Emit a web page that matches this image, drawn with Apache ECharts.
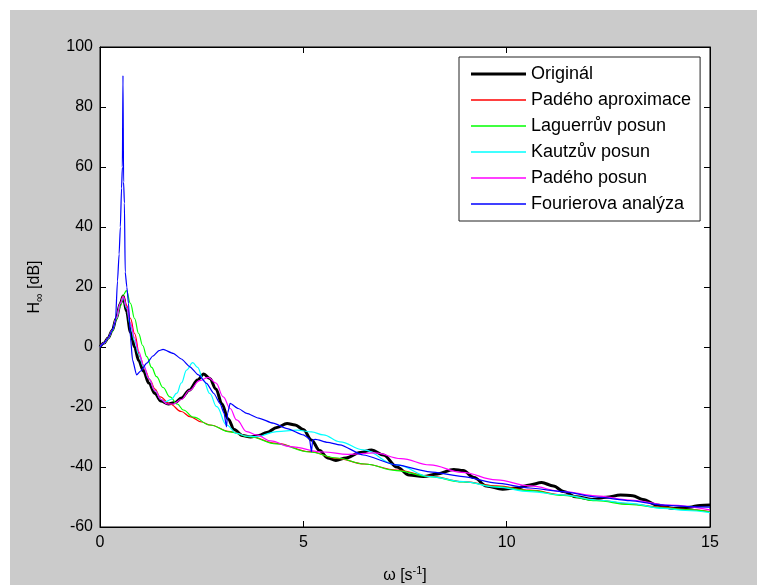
<!DOCTYPE html>
<html>
<head>
<meta charset="utf-8">
<script src="https://cdn.jsdelivr.net/npm/echarts@6/dist/echarts.min.js"></script>
<style>
html,body{margin:0;padding:0;background:#fff;}
#c{width:757px;height:585px;}
</style>
</head>
<body>
<div id="c"></div>
<script>
// ---- data ----
const seriesNames = ['Originál','Padého aproximace','Laguerrův posun','Kautzův posun','Padého posun','Fourierova analýza'];

const origX = [0,0.1,0.2,0.3,0.4,0.5,0.57,0.65,0.75,0.85,0.95,1.07,1.2,1.35,1.5,1.68,1.85,2.0,2.2,2.4,2.55,2.7,2.85,3.0,3.15,3.3,3.5,3.7,3.9,4.1,4.35,4.6,4.8,5.0,5.2,5.4,5.6,5.8,6.05,6.4,6.68,6.97,7.3,7.6,7.95,8.3,8.7,8.93,9.2,9.5,9.9,10.25,10.57,10.86,11.15,11.4,11.7,12.1,12.45,12.8,13.1,13.35,13.7,14.1,14.5,14.75,15];
const origY = [0,1.3,3,5.5,9.5,14.5,17,12,5,0,-4.5,-8,-12,-15.5,-18,-19,-18.5,-17,-14.3,-11,-9,-10.5,-14,-19,-24,-27.5,-29.5,-30,-29.5,-28.5,-26.8,-25.5,-26,-27.5,-31,-34.5,-37,-37.8,-37,-35.2,-34.3,-36,-40,-42.7,-43.2,-42.3,-40.8,-41.2,-43.5,-46.3,-47.4,-47,-46,-45.2,-46.3,-48.2,-49.9,-50.8,-50.1,-49.3,-49.6,-50.8,-52.7,-53.8,-53.4,-52.8,-52.7];

const padeX = [0,0.1,0.2,0.3,0.4,0.5,0.57,0.65,0.75,0.85,0.98,1.1,1.23,1.35,1.48,1.72,2.0,2.21,2.5,2.7,3.2,3.69,4.34,5.16,5.82,6.5,7.29,8.1,8.93,9.75,10.57,11.4,12.21,13.0,13.85,14.4,15];
const padeY = [0,1.3,3,5.5,9.5,14.5,17,14,9.5,4.5,-3.2,-7.5,-11,-14,-16.6,-19,-21.5,-23.2,-25,-26,-28.2,-29.9,-32.1,-34.9,-37.1,-39,-41,-43,-44.9,-46.3,-47.7,-49.3,-51,-52.3,-53.4,-54.1,-54.9];

const lagX = [0,0.1,0.2,0.3,0.4,0.5,0.58,0.65,0.75,0.85,0.95,1.05,1.15,1.27,1.39,1.55,1.72,1.9,2.05,2.3,2.7,3.2,3.69,4.34,5.16,5.82,6.5,7.29,8.1,8.93,9.75,10.57,11.4,12.21,13.0,13.85,14.4,15];
const lagY = [0,1.2,2.8,5.2,9,13.5,17.5,18.8,14.5,9.5,4.5,0.5,-3.2,-6.8,-9.9,-13.5,-16.6,-19,-21,-23.4,-26,-28.3,-30,-32.3,-35,-37,-39,-41.2,-43.2,-45,-46.5,-47.9,-49.5,-51.2,-52.5,-53.6,-54.2,-55];

const kautzX = [0,0.1,0.2,0.3,0.4,0.5,0.57,0.65,0.75,0.85,0.95,1.07,1.2,1.35,1.5,1.6,1.75,1.89,2.0,2.13,2.28,2.4,2.54,2.7,2.87,3.11,3.36,3.6,3.85,4.34,4.84,5.2,5.49,5.9,6.47,7.29,8.11,8.93,9.75,10.57,11.39,12.21,13.03,13.85,14.4,15];
const kautzY = [0,1.3,3,5.5,9.5,14.5,16.5,13,7,2,-2.5,-6.5,-10.5,-14.5,-17.5,-18.3,-17.5,-15.4,-12,-7.7,-5.2,-6.8,-11,-15.5,-19.9,-26,-28.8,-29.7,-29.9,-28.2,-27.7,-28.3,-29.3,-31.6,-34.3,-39.3,-43.2,-44.9,-46.7,-48.2,-49.3,-51,-52.1,-53.8,-54.5,-55.2];

const padePosunX = [0,0.1,0.2,0.3,0.4,0.5,0.57,0.65,0.75,0.85,0.95,1.07,1.2,1.35,1.5,1.65,1.8,2.0,2.2,2.45,2.66,2.85,3.03,3.2,3.36,3.61,3.85,4.2,4.67,5.49,6.1,6.76,7.4,8.11,8.9,9.75,10.57,11.39,12.2,13.03,14.0,15];
const padePosunY = [0,1.3,3,5.5,9.5,14.5,16.8,13.5,8,3,-1.5,-6,-10.5,-14.5,-17.5,-19,-19,-17.5,-14.5,-11.2,-10.1,-12,-16.6,-20.5,-24.3,-28.2,-29.3,-31.3,-33.2,-35,-35.8,-35.3,-37.2,-39.3,-41.8,-44.3,-46.3,-48.2,-49.6,-51,-52.7,-54.3];

const fourX = [0,0.1,0.2,0.3,0.38,0.43,0.47,0.5,0.53,0.55,0.565,0.58,0.6,0.62,0.66,0.7,0.75,0.8,0.9,1.0,1.15,1.3,1.45,1.55,1.8,2.0,2.21,2.42,2.62,2.8,2.95,3.05,3.11,3.14,3.2,3.4,3.61,3.9,4.26,4.6,5.0,5.15,5.2,5.23,5.3,5.6,5.9,6.47,7.29,8.11,8.93,9.75,10.57,11.39,12.21,13.03,13.85,14.5,15];
const fourY = [0,1.3,3,5.5,8.5,22,31,40,53,60,90.5,55,48,25,20,14.6,3,-4.3,-9.3,-8,-5.4,-3,-1.2,-0.8,-2.1,-4,-6.6,-9.3,-12.1,-15.5,-18.8,-22,-26.6,-22,-18.8,-20.5,-22.1,-23.7,-25.4,-27.2,-29.3,-30.5,-34.9,-31,-30.8,-31.8,-32.6,-36,-39.3,-41.6,-43.2,-45.4,-47,-48.2,-50,-51.2,-52.7,-53.2,-53.4];

const xTicks = {min:0, max:15, interval:5};
const yTicks = {min:-60, max:100, interval:20};

// ---- chart ----
const FONT = '"Liberation Sans", Arial, Helvetica, sans-serif';
function pairs(xs, ys){ return xs.map((x,i)=>[x, ys[i]]); }

const seriesDefs = [
  {name:seriesNames[0], x:origX, y:origY, color:'#000000', width:3, smooth:0.35},
  {name:seriesNames[1], x:padeX, y:padeY, color:'#ff0000', width:1.2, smooth:0.4},
  {name:seriesNames[2], x:lagX, y:lagY, color:'#00ff00', width:1.2, smooth:0.4},
  {name:seriesNames[3], x:kautzX, y:kautzY, color:'#00ffff', width:1.2, smooth:0.4},
  {name:seriesNames[4], x:padePosunX, y:padePosunY, color:'#ff00ff', width:1.2, smooth:0.4},
  {name:seriesNames[5], x:fourX, y:fourY, color:'#0000ff', width:1.2, smooth:0.2}
];

const chart = echarts.init(document.getElementById('c'), null, {renderer:'canvas'});

const axisCommon = {
  type:'value',
  axisLine:{show:true, onZero:false, lineStyle:{color:'#000', width:1}},
  axisTick:{show:true, inside:true, length:6, lineStyle:{color:'#000'}},
  splitLine:{show:false},
  axisLabel:{fontSize:16, color:'#000', fontFamily:FONT}
};

chart.setOption({
  backgroundColor:'#ffffff',
  animation:false,
  textStyle:{fontFamily:FONT},
  graphic:[{type:'rect', z:-100, silent:true, shape:{x:10, y:10, width:747, height:575}, style:{fill:'#cbcbcb'}}],
  grid:{left:100, top:47, width:610, height:480, show:true, backgroundColor:'#ffffff', borderColor:'#000', borderWidth:1,
        containLabel:false, outerBoundsMode:'none'},
  legend:{
    show:true, orient:'vertical', left:459, top:57,
    padding:[8,9,8,12], itemGap:8, itemWidth:55, itemHeight:14,
    backgroundColor:'#ffffff', borderColor:'#222', borderWidth:1,
    symbolKeepAspect:true,
    textStyle:{fontSize:18, color:'#000', fontFamily:FONT, padding:[0,0,0,0]},
    data: seriesDefs.map(s => ({
      name:s.name,
      icon: s.width > 2 ? 'path://M0,0L55,0L55,3L0,3Z' : 'path://M0,0L55,0L55,1.3L0,1.3Z',
      itemStyle:{color:s.color}
    }))
  },
  xAxis:[
    Object.assign({}, axisCommon, {
      min:xTicks.min, max:xTicks.max, interval:xTicks.interval, position:'bottom',
      axisLabel:{fontSize:16, color:'#000', fontFamily:FONT, margin:8},
      name:'{n|ω [s}{sup|-1}{n|]}', nameLocation:'middle', nameGap:38,
      nameTextStyle:{color:'#000', fontFamily:FONT, fontSize:16,
        rich:{n:{fontSize:16, fontFamily:FONT, color:'#000', lineHeight:22}, sup:{fontSize:11, fontFamily:FONT, color:'#000', verticalAlign:'top', lineHeight:12}}}
    }),
    Object.assign({}, axisCommon, {
      min:xTicks.min, max:xTicks.max, interval:xTicks.interval, position:'top',
      axisLabel:{show:false}
    })
  ],
  yAxis:[
    Object.assign({}, axisCommon, {
      min:yTicks.min, max:yTicks.max, interval:yTicks.interval, position:'left',
      axisLabel:{fontSize:16, color:'#000', fontFamily:FONT, margin:7},
      name:'{n|H}{sub|∞}{n| [dB]}', nameLocation:'middle', nameRotate:90, nameGap:54,
      nameTextStyle:{color:'#000', fontFamily:FONT, fontSize:16,
        rich:{n:{fontSize:16, fontFamily:FONT, color:'#000', lineHeight:22}, sub:{fontSize:12, fontFamily:FONT, color:'#000', verticalAlign:'bottom', lineHeight:12}}}
    }),
    Object.assign({}, axisCommon, {
      min:yTicks.min, max:yTicks.max, interval:yTicks.interval, position:'right',
      axisLabel:{show:false}
    })
  ],
  series: seriesDefs.map(s => ({
    name:s.name, type:'line', xAxisIndex:0, yAxisIndex:0,
    data:pairs(s.x, s.y), symbol:'none', showSymbol:false,
    smooth:s.smooth, smoothMonotone:'x',
    lineStyle:{color:s.color, width:s.width},
    itemStyle:{color:s.color},
    clip:true
  }))
});
</script>
</body>
</html>
